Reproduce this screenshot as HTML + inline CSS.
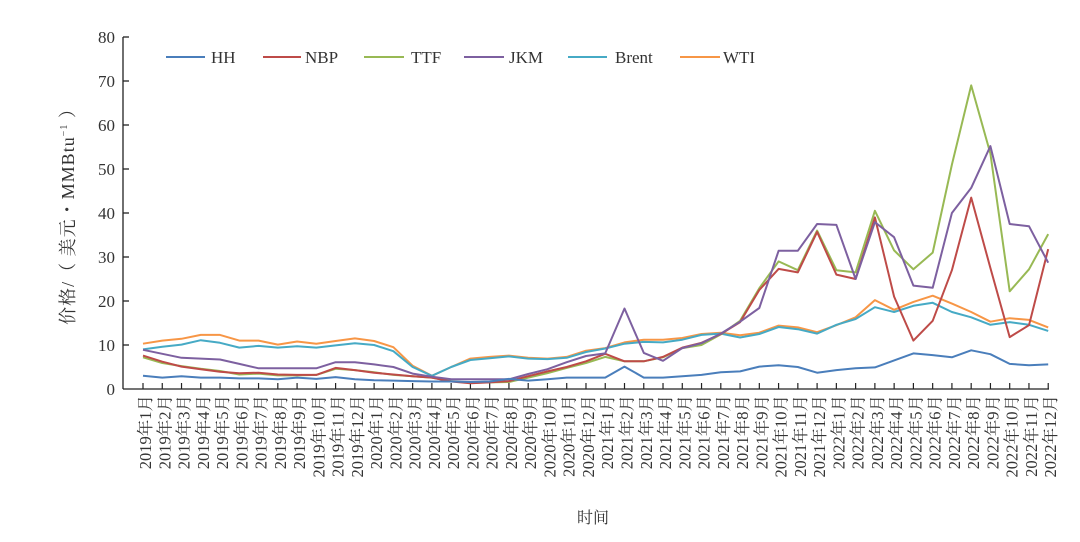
<!DOCTYPE html>
<html><head><meta charset="utf-8"><style>
html,body{margin:0;padding:0;background:#fff;}
svg{display:block;font-family:"Liberation Serif","Noto Serif CJK SC",serif;}
</style></head><body>
<svg id="c" width="1080" height="542" viewBox="0 0 1080 542" xmlns="http://www.w3.org/2000/svg">
<rect width="1080" height="542" fill="#fff"/>
<g stroke="#222" stroke-width="1.3" fill="none">
<line x1="123" y1="37" x2="123" y2="389"/>
<line x1="123" y1="389" x2="1049" y2="389"/>
<line x1="123" y1="37" x2="129" y2="37"/><line x1="123" y1="81" x2="129" y2="81"/>
<line x1="123" y1="125" x2="129" y2="125"/><line x1="123" y1="169" x2="129" y2="169"/>
<line x1="123" y1="213" x2="129" y2="213"/><line x1="123" y1="257" x2="129" y2="257"/>
<line x1="123" y1="301" x2="129" y2="301"/><line x1="123" y1="345" x2="129" y2="345"/>
</g>
<g id="ticks" stroke="#222" stroke-width="1.2"></g>
<g font-size="17" fill="#333" text-anchor="end">
<text x="115" y="43">80</text><text x="115" y="87">70</text><text x="115" y="131">60</text>
<text x="115" y="175">50</text><text x="115" y="219">40</text><text x="115" y="263">30</text>
<text x="115" y="307">20</text><text x="115" y="351">10</text><text x="115" y="395">0</text>
</g>
<text transform="translate(74,212) rotate(-90)" text-anchor="middle" font-size="18" fill="#333" letter-spacing="1">价格/（ 美元・MMBtu<tspan font-size="10" dy="-7">−1</tspan><tspan dy="7"> ）</tspan></text>
<text x="593" y="523" text-anchor="middle" font-size="16" fill="#333">时间</text>
<g font-size="17" fill="#333">
<line x1="166" y1="57" x2="205" y2="57" stroke="#4a7ebb" stroke-width="2"/><text x="211" y="63">HH</text>
<line x1="263" y1="57" x2="301" y2="57" stroke="#be4b48" stroke-width="2"/><text x="305" y="63">NBP</text>
<line x1="364" y1="57" x2="404" y2="57" stroke="#98b954" stroke-width="2"/><text x="411" y="63">TTF</text>
<line x1="464" y1="57" x2="504" y2="57" stroke="#7d60a0" stroke-width="2"/><text x="509" y="63">JKM</text>
<line x1="568" y1="57" x2="607" y2="57" stroke="#46aac5" stroke-width="2"/><text x="615" y="63">Brent</text>
<line x1="680" y1="57" x2="720" y2="57" stroke="#f79646" stroke-width="2"/><text x="723" y="63">WTI</text>
</g>
<g id="series" fill="none" stroke-width="2" stroke-linejoin="round"></g>
<g font-size="16.5" fill="#333" text-anchor="end">
<text transform="translate(151,395) rotate(-90)">2019年1月</text>
<text transform="translate(170.3,395) rotate(-90)">2019年2月</text>
<text transform="translate(189.5,395) rotate(-90)">2019年3月</text>
<text transform="translate(208.8,395) rotate(-90)">2019年4月</text>
<text transform="translate(228,395) rotate(-90)">2019年5月</text>
<text transform="translate(247.3,395) rotate(-90)">2019年6月</text>
<text transform="translate(266.6,395) rotate(-90)">2019年7月</text>
<text transform="translate(285.8,395) rotate(-90)">2019年8月</text>
<text transform="translate(305.1,395) rotate(-90)">2019年9月</text>
<text transform="translate(324.3,395) rotate(-90)">2019年10月</text>
<text transform="translate(343.6,395) rotate(-90)">2019年11月</text>
<text transform="translate(362.9,395) rotate(-90)">2019年12月</text>
<text transform="translate(382.1,395) rotate(-90)">2020年1月</text>
<text transform="translate(401.4,395) rotate(-90)">2020年2月</text>
<text transform="translate(420.6,395) rotate(-90)">2020年3月</text>
<text transform="translate(439.9,395) rotate(-90)">2020年4月</text>
<text transform="translate(459.2,395) rotate(-90)">2020年5月</text>
<text transform="translate(478.4,395) rotate(-90)">2020年6月</text>
<text transform="translate(497.7,395) rotate(-90)">2020年7月</text>
<text transform="translate(516.9,395) rotate(-90)">2020年8月</text>
<text transform="translate(536.2,395) rotate(-90)">2020年9月</text>
<text transform="translate(555.5,395) rotate(-90)">2020年10月</text>
<text transform="translate(574.7,395) rotate(-90)">2020年11月</text>
<text transform="translate(594,395) rotate(-90)">2020年12月</text>
<text transform="translate(613.2,395) rotate(-90)">2021年1月</text>
<text transform="translate(632.5,395) rotate(-90)">2021年2月</text>
<text transform="translate(651.8,395) rotate(-90)">2021年3月</text>
<text transform="translate(671,395) rotate(-90)">2021年4月</text>
<text transform="translate(690.3,395) rotate(-90)">2021年5月</text>
<text transform="translate(709.5,395) rotate(-90)">2021年6月</text>
<text transform="translate(728.8,395) rotate(-90)">2021年7月</text>
<text transform="translate(748.1,395) rotate(-90)">2021年8月</text>
<text transform="translate(767.3,395) rotate(-90)">2021年9月</text>
<text transform="translate(786.6,395) rotate(-90)">2021年10月</text>
<text transform="translate(805.8,395) rotate(-90)">2021年11月</text>
<text transform="translate(825.1,395) rotate(-90)">2021年12月</text>
<text transform="translate(844.4,395) rotate(-90)">2022年1月</text>
<text transform="translate(863.6,395) rotate(-90)">2022年2月</text>
<text transform="translate(882.9,395) rotate(-90)">2022年3月</text>
<text transform="translate(902.1,395) rotate(-90)">2022年4月</text>
<text transform="translate(921.4,395) rotate(-90)">2022年5月</text>
<text transform="translate(940.7,395) rotate(-90)">2022年6月</text>
<text transform="translate(959.9,395) rotate(-90)">2022年7月</text>
<text transform="translate(979.2,395) rotate(-90)">2022年8月</text>
<text transform="translate(998.4,395) rotate(-90)">2022年9月</text>
<text transform="translate(1017.7,395) rotate(-90)">2022年10月</text>
<text transform="translate(1037,395) rotate(-90)">2022年11月</text>
<text transform="translate(1056.2,395) rotate(-90)">2022年12月</text>
</g>
<script>
(function(){
var X=function(i){return 143+i*19.26;},Y=function(v){return 389-v*4.4;};
var NS="http://www.w3.org/2000/svg";
var t=document.getElementById('ticks');
for(var i=0;i<48;i++){var l=document.createElementNS(NS,'line');l.setAttribute('x1',X(i));l.setAttribute('x2',X(i));l.setAttribute('y1',383);l.setAttribute('y2',389);t.appendChild(l);}
var S=[
['#f79646',[10.3,11.0,11.4,12.3,12.3,11.0,11.0,10.1,10.8,10.3,10.9,11.5,10.9,9.5,5.3,3.0,5.0,6.9,7.3,7.6,7.1,6.9,7.3,8.7,9.3,10.6,11.2,11.2,11.6,12.5,12.8,12.2,12.8,14.4,14.0,12.9,14.5,16.3,20.2,18.0,19.8,21.2,19.4,17.5,15.3,16.1,15.7,14.0]],
['#46aac5',[9.0,9.6,10.1,11.1,10.5,9.4,9.8,9.4,9.7,9.4,9.9,10.4,10.0,8.6,5.0,3.0,5.0,6.6,7.0,7.4,6.9,6.8,7.1,8.4,9.2,10.3,10.7,10.6,11.2,12.3,12.6,11.7,12.5,14.1,13.6,12.6,14.6,15.9,18.6,17.5,18.9,19.6,17.5,16.3,14.6,15.2,14.6,13.2]],
['#98b954',[7.2,5.9,5.2,4.6,4.1,3.3,3.5,3.1,3.1,3.2,4.6,4.3,3.8,3.2,2.9,2.6,1.8,1.4,1.5,1.6,2.6,3.6,4.8,5.9,7.3,6.3,6.3,7.2,9.3,10.0,12.4,15.5,22.9,29.0,27.0,36.0,27.0,26.5,40.5,31.5,27.2,31.0,51.0,69.0,53.5,22.2,27.2,35.2]],
['#be4b48',[7.6,6.2,5.1,4.5,3.9,3.6,3.7,3.3,3.2,3.2,4.8,4.3,3.7,3.3,2.9,2.6,1.7,1.3,1.5,1.8,2.9,4.0,5.0,6.3,8.0,6.3,6.3,7.3,9.4,10.5,12.5,15.2,22.5,27.3,26.5,35.7,26.0,25.0,39.0,21.0,11.0,15.5,27.0,43.5,27.5,11.8,14.5,31.8]],
['#7d60a0',[8.9,8.0,7.1,6.9,6.7,5.7,4.7,4.7,4.7,4.7,6.1,6.1,5.6,5.0,3.5,2.8,2.2,2.2,2.2,2.2,3.4,4.5,6.1,7.5,8.1,18.3,8.2,6.4,9.3,10.4,12.6,15.3,18.4,31.4,31.4,37.5,37.3,25.0,37.9,34.5,23.5,23.0,40.0,45.7,55.2,37.5,37.0,28.7]],
['#4a7ebb',[3.0,2.6,2.9,2.6,2.6,2.4,2.4,2.2,2.6,2.3,2.7,2.2,2.0,1.9,1.8,1.7,1.7,1.6,1.7,2.3,1.9,2.2,2.6,2.6,2.6,5.1,2.6,2.6,2.9,3.2,3.8,4.0,5.1,5.4,5.0,3.7,4.3,4.7,4.9,6.5,8.1,7.7,7.2,8.8,7.9,5.7,5.4,5.6]]
];
var g=document.getElementById('series');
S.forEach(function(s){var p=document.createElementNS(NS,'polyline');p.setAttribute('stroke',s[0]);p.setAttribute('points',s[1].map(function(v,i){return X(i).toFixed(1)+','+Y(v).toFixed(1);}).join(' '));g.appendChild(p);});
})();
</script>
</svg>
</body></html>
